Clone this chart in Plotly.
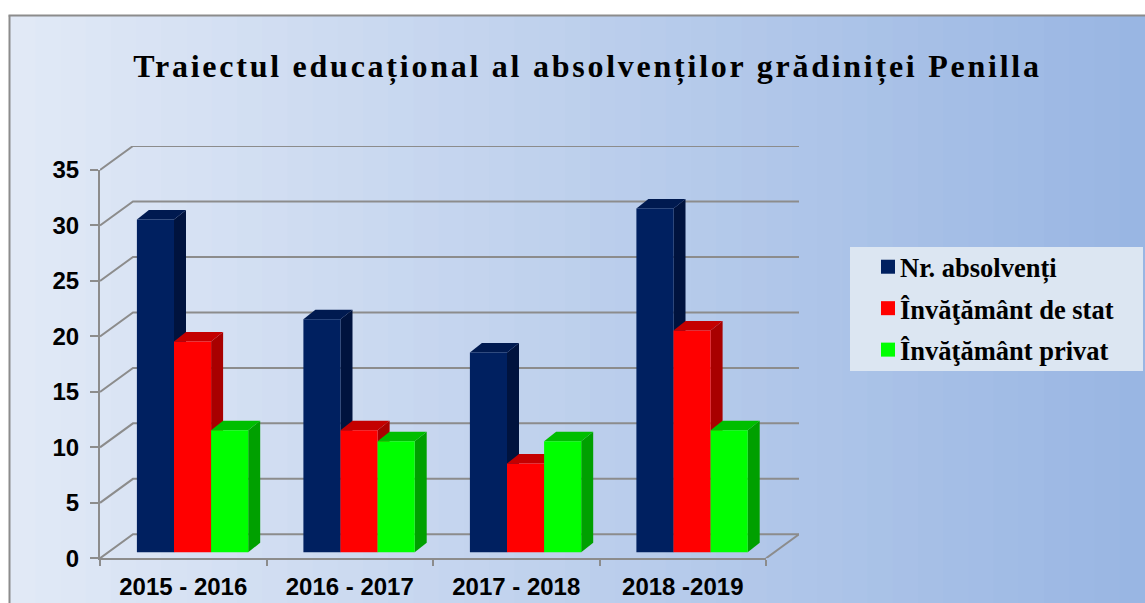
import plotly.graph_objects as go

TITLE = "Traiectul educațional al absolvenților grădiniței Penilla"
CATEGORIES = ["2015 - 2016", "2016 - 2017", "2017 - 2018", "2018 -2019"]
SERIES_NAMES = ["Nr. absolvenți", "Învăţământ de stat", "Învăţământ privat"]
ABSOLVENTI = [30, 21, 18, 31]
STAT = [19, 11, 8, 20]
PRIVAT = [11, 10, 10, 11]
Y_TICKS = [0, 5, 10, 15, 20, 25, 30, 35]

W, H = 1145, 603
PX_L, PX_R, PX_T, PX_B = 100, 766, 170, 558.3
X_UNIT = (PX_R - PX_L) / 4
Y_UNIT = (PX_B - PX_T) / 35
WALL_PX_X, WALL_PX_Y = 33, 24
WALL_DX, WALL_DY = WALL_PX_X / X_UNIT, WALL_PX_Y / Y_UNIT
BAR_DX, BAR_DY = 12 / X_UNIT, 9.5 / Y_UNIT
BAR_BASE = 6 / Y_UNIT
BAR_W = 37.1 / X_UNIT
SHIFT = 9.3 / X_UNIT
GRID = "#8C8C8C"
FRONT = ["#002060", "#FF0000", "#00FF00"]
SIDE = ["#00133E", "#A80000", "#00A000"]
TOP = ["#001A50", "#C40000", "#00BE00"]

fig = go.Figure()

gx, gy = [], []
for t in Y_TICKS:
    gx += [-0.5, -0.5 + WALL_DX, 3.5 + WALL_DX, None]
    gy += [t, t + WALL_DY, t + WALL_DY, None]
gx += [3.5, 3.5 + WALL_DX, None]
gy += [0, WALL_DY, None]
fig.add_trace(go.Scatter(x=gx, y=gy, mode="lines", line=dict(color=GRID, width=2),
                         showlegend=False, hoverinfo="skip"))

rows = [ABSOLVENTI, STAT, PRIVAT]
for c in range(len(CATEGORIES)):
    for k, vals in enumerate(rows):
        v = vals[c] + BAR_BASE
        xl = c + SHIFT + (k - 1.5) * BAR_W
        xr = xl + BAR_W
        fig.add_trace(go.Scatter(
            x=[xr, xr + BAR_DX, xr + BAR_DX, xr, xr],
            y=[BAR_BASE, BAR_BASE + BAR_DY, v + BAR_DY, v, BAR_BASE],
            fill="toself", fillcolor=SIDE[k], mode="none",
            showlegend=False, hoverinfo="skip"))
        fig.add_trace(go.Scatter(
            x=[xl, xl + BAR_DX, xr + BAR_DX, xr, xl],
            y=[v, v + BAR_DY, v + BAR_DY, v, v],
            fill="toself", fillcolor=TOP[k], mode="none",
            showlegend=False, hoverinfo="skip"))

for k, vals in enumerate(rows):
    fig.add_trace(go.Bar(
        name="<b>%s</b>" % SERIES_NAMES[k], legendgroup=SERIES_NAMES[k],
        x=[c + SHIFT + (k - 1) * BAR_W for c in range(len(CATEGORIES))],
        y=vals, base=BAR_BASE, width=BAR_W,
        marker=dict(color=FRONT[k], line=dict(width=0)),
        xaxis="x2", yaxis="y2"))

shapes = []
C0, C1 = (225, 233, 246), (153, 182, 227)
STEPS = 45
for i in range(STEPS):
    t = i / (STEPS - 1)
    col = tuple(round(a + (b - a) * t) for a, b in zip(C0, C1))
    x0 = 10 + (W - 10) * i / STEPS
    shapes.append(dict(type="rect", xref="paper", yref="paper", layer="below",
                       x0=x0 / W, x1=1, y0=0, y1=(H - 16) / H,
                       line=dict(width=0), fillcolor="rgb(%d,%d,%d)" % col))
shapes.append(dict(type="line", xref="paper", yref="paper", layer="below",
                   x0=8.5 / W, x1=1, y0=(H - 15.5) / H, y1=(H - 15.5) / H,
                   line=dict(color=GRID, width=2)))
shapes.append(dict(type="line", xref="paper", yref="paper", layer="below",
                   x0=9.5 / W, x1=9.5 / W, y0=0, y1=(H - 15.5) / H,
                   line=dict(color=GRID, width=2)))
shapes.append(dict(type="rect", xref="paper", yref="paper", layer="below",
                   x0=850 / W, x1=1143 / W, y0=(H - 371) / H, y1=(H - 247) / H,
                   line=dict(width=0), fillcolor="#DCE6F2"))

dom_x = [PX_L / W, PX_R / W]
dom_y = [(H - PX_B) / H, (H - PX_T) / H]
rx, ry = [-0.5, 3.5], [0, 35]
AX_FONT = dict(family="Liberation Sans", size=24, color="#000000")
SERIF = "Liberation Serif"

fig.update_layout(
    width=W, height=H, margin=dict(l=0, r=0, t=0, b=0, autoexpand=False), autosize=False,
    paper_bgcolor="#FFFFFF", plot_bgcolor="rgba(0,0,0,0)",
    barmode="overlay", shapes=shapes, hovermode=False,
    title=dict(text="<b>%s</b>" % TITLE, x=587.5 / W, xanchor="center",
               y=1 - 65.5 / H, yanchor="middle",
               font=dict(family=SERIF, size=32, color="#000000")),
    xaxis=dict(domain=[PX_L / W, (PX_R + WALL_PX_X) / W], range=[-0.5, 3.5 + WALL_DX],
               visible=False, anchor="y"),
    yaxis=dict(domain=[(H - PX_B) / H, (H - PX_T + WALL_PX_Y) / H], range=[0, 35 + WALL_DY],
               visible=False, anchor="x"),
    xaxis2=dict(domain=dom_x, range=rx, anchor="y2", tickmode="array",
                tickvals=list(range(len(CATEGORIES))), ticktext=["<b>%s</b>" % c for c in CATEGORIES],
                ticks="", showgrid=False, zeroline=False, showline=True,
                linecolor=GRID, linewidth=2, tickfont=AX_FONT, ticklabelstandoff=6,
                minor=dict(tickmode="array", tickvals=[-0.5, 0.5, 1.5, 2.5, 3.5], ticks="outside",
                           ticklen=6, tickcolor=GRID, tickwidth=2, showgrid=False)),
    yaxis2=dict(domain=dom_y, range=ry, anchor="x2", tickmode="array",
                tickvals=Y_TICKS, ticktext=["<b>%d</b>" % t for t in Y_TICKS],
                ticks="outside", ticklen=8, tickcolor=GRID, tickwidth=2,
                showgrid=False, zeroline=False, showline=True, linecolor=GRID, linewidth=2,
                tickfont=AX_FONT, ticklabelstandoff=6),
    legend=dict(x=860 / W, xanchor="left", y=1 - 243 / H, yanchor="top",
                bgcolor="rgba(0,0,0,0)", borderwidth=0, tracegroupgap=4, traceorder="grouped",
                entrywidth=240, entrywidthmode="pixels", itemclick=False,
                font=dict(family=SERIF, size=26.5, color="#000000")),
)

POST = """
document.body.style.margin='0';
document.documentElement.style.overflow='hidden';
document.querySelectorAll('.gtitle').forEach(function(t){t.style.letterSpacing='2.75px';});
document.querySelectorAll('.legend .legendpoints').forEach(function(g){g.setAttribute('transform','translate(8,0)');});
document.querySelectorAll('.legend .legendbar path, .legend .legendpoints path').forEach(function(p){p.setAttribute('d','M7,7H-7V-7H7Z');});
"""
fig.write_html("out.html", config=dict(displayModeBar=False), post_script=POST)
